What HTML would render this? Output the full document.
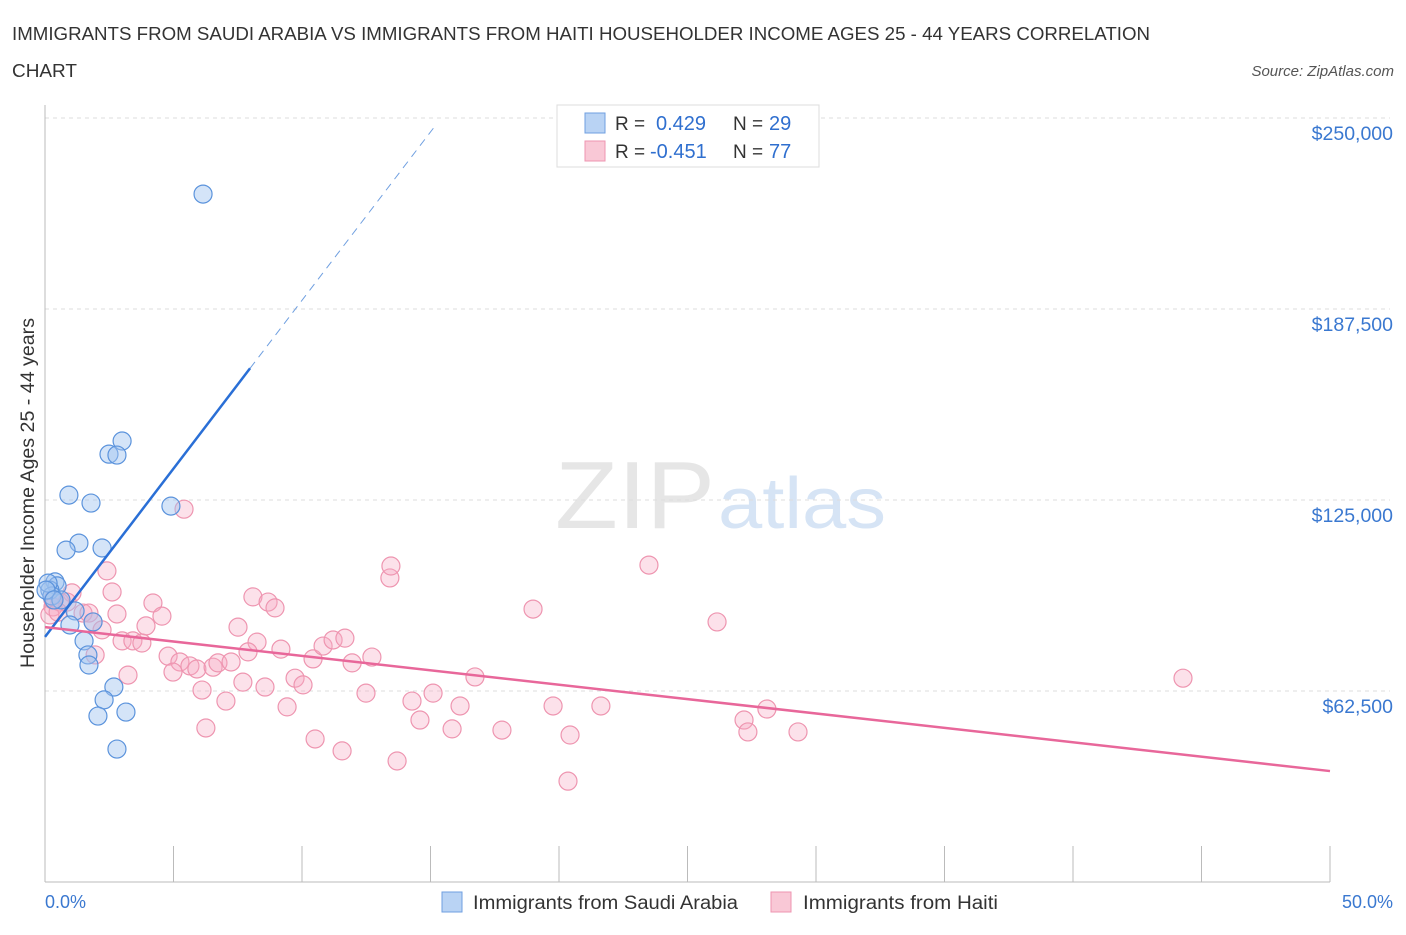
<!DOCTYPE html>
<html><head><meta charset="utf-8"><style>
body{margin:0;background:#fff;font-family:"Liberation Sans",sans-serif;}
svg text{font-family:"Liberation Sans",sans-serif;}
</style></head><body>
<svg id="chart" width="1406" height="930" xmlns="http://www.w3.org/2000/svg">
<text x="12" y="40" font-size="18.5" fill="#333" textLength="1138" lengthAdjust="spacingAndGlyphs">IMMIGRANTS FROM SAUDI ARABIA VS IMMIGRANTS FROM HAITI HOUSEHOLDER INCOME AGES 25 - 44 YEARS CORRELATION</text>
<text x="12" y="77" font-size="18.5" fill="#333" textLength="65" lengthAdjust="spacingAndGlyphs">CHART</text>
<text x="1394" y="76" font-size="15" fill="#555" text-anchor="end" font-style="italic">Source: ZipAtlas.com</text>
<text x="555" y="528" font-size="96" fill="#e6e6e6" font-family="Liberation Serif" textLength="160" lengthAdjust="spacingAndGlyphs">ZIP</text>
<text x="718" y="528" font-size="72" fill="#d6e4f5" textLength="168" lengthAdjust="spacingAndGlyphs">atlas</text>
<g id="grid"></g><g id="axes"></g><g id="pts"></g><g id="lines"></g>
<text transform="translate(34,493) rotate(-90)" font-size="19" fill="#333" text-anchor="middle" textLength="350" lengthAdjust="spacingAndGlyphs">Householder Income Ages 25 - 44 years</text>
<text x="45" y="908" font-size="18" fill="#3a78d0">0.0%</text>
<text x="1393" y="908" font-size="18" fill="#3a78d0" text-anchor="end">50.0%</text>
<g>
<rect x="557" y="105" width="262" height="62" fill="#fff" stroke="#ddd"/>
<rect x="585" y="113" width="20" height="20" fill="#b9d3f4" stroke="#6f9fe0"/>
<rect x="585" y="141" width="20" height="20" fill="#f9c8d6" stroke="#ee95b0"/>
<text x="615" y="130" font-size="19" fill="#333">R =</text><text x="656" y="130" font-size="20" fill="#2f6fcf">0.429</text>
<text x="733" y="130" font-size="19" fill="#333">N =</text><text x="769" y="130" font-size="20" fill="#2f6fcf">29</text>
<text x="615" y="158" font-size="19" fill="#333">R =</text><text x="650" y="158" font-size="20" fill="#2f6fcf">-0.451</text>
<text x="733" y="158" font-size="19" fill="#333">N =</text><text x="769" y="158" font-size="20" fill="#2f6fcf">77</text>
</g>
<g>
<rect x="442" y="892" width="20" height="20" fill="#b9d3f4" stroke="#6f9fe0"/>
<text x="473" y="909" font-size="19" fill="#333" textLength="265" lengthAdjust="spacingAndGlyphs">Immigrants from Saudi Arabia</text>
<rect x="771" y="892" width="20" height="20" fill="#f9c8d6" stroke="#ee95b0"/>
<text x="803" y="909" font-size="19" fill="#333" textLength="195" lengthAdjust="spacingAndGlyphs">Immigrants from Haiti</text>
</g>
</svg>
<script>
const yTicks=[62500,125000,187500,250000];
const yTickLabels=["$62,500","$125,000","$187,500","$250,000"];
const saudiX=[6.15,3.0,2.49,2.8,0.93,1.79,4.9,1.32,0.82,2.22,0.39,0.47,0.19,0.27,0.62,1.17,1.87,0.97,1.52,1.67,1.71,2.68,2.3,2.06,3.15,2.8,0.12,0.04,0.35];
const saudiY=[225100,144300,140000,139700,126600,124000,123000,110900,108600,109300,98200,96900,95500,93600,92300,88700,85100,84100,78900,74300,71000,63800,59600,54300,55600,43500,97800,95500,92300];
const haitiX=[5.41,2.41,2.61,2.80,4.20,4.55,3.93,3.00,3.42,3.77,1.95,4.79,5.25,5.64,5.91,6.54,6.73,7.24,8.09,8.68,8.95,7.51,8.25,7.90,9.18,3.23,4.98,6.11,7.04,7.70,8.56,9.73,10.04,9.42,6.26,10.43,10.82,11.21,11.67,11.95,10.51,11.56,1.05,0.58,0.86,0.31,0.19,1.48,1.71,1.87,2.22,13.42,13.46,12.72,12.49,13.70,14.28,14.59,15.10,15.84,16.15,16.73,17.78,18.99,19.77,20.43,20.35,21.63,23.50,26.15,27.20,27.35,28.09,29.30,44.28,0.31,0.51];
const haitiY=[122000,101800,94900,87700,91300,87000,83800,78900,78900,78200,74300,73900,72000,70700,69700,70300,71700,72000,93300,91600,89700,83400,78500,75300,76200,67700,68700,62800,59200,65400,63800,66700,64500,57300,50400,73000,77200,79200,79800,71700,46800,42900,94600,91600,91600,90000,87400,88000,88000,85100,82500,99500,103400,73600,61800,39600,59200,53000,61800,50100,57600,67100,49700,89300,57600,48100,33000,57600,103700,85100,53000,49100,56600,49100,66700,92300,88300];
const saudiTrend=[80200,11015];
const haitiTrend=[83400,-942];
const NS="http://www.w3.org/2000/svg";
const X0=45,X1=1330,Y0=882,Y250=118;
const sx=v=>X0+(v/50)*(X1-X0);
const sy=v=>Y0-(v/250000)*(Y0-Y250);
function mk(tag,attrs,parent){const e=document.createElementNS(NS,tag);for(const k in attrs)e.setAttribute(k,attrs[k]);document.getElementById(parent).appendChild(e);return e;}
yTicks.forEach((t,i)=>{
 const g=mk('line',{x1:X0,x2:X1+60,y1:sy(t),y2:sy(t),stroke:'#ddd','stroke-dasharray':'4,4'},'grid');
 
 
 const l=mk('text',{x:1393,y:sy(t)+22,'font-size':19.5,fill:'#3a78d0','text-anchor':'end'},'grid');
 l.textContent=yTickLabels[i];
 
 
});
const ax=mk('line',{x1:X0,x2:X0,y1:105,y2:Y0,stroke:'#bbb'},'axes');


const bx=mk('line',{x1:X0,x2:X1,y1:Y0,y2:Y0,stroke:'#bbb'},'axes');


for(let i=1;i<=10;i++){const t=mk('line',{x1:sx(i*5),x2:sx(i*5),y1:Y0,y2:Y0-36,stroke:'#bbb'},'axes');
 
 }
haitiX.forEach((x,i)=>{const c=mk('circle',{cx:sx(x),cy:sy(haitiY[i]),r:9,fill:'rgba(246,168,194,0.35)',stroke:'#ee95b0','stroke-width':1.2},'pts');
 
 });
saudiX.forEach((x,i)=>{const c=mk('circle',{cx:sx(x),cy:sy(saudiY[i]),r:9,fill:'rgba(160,195,240,0.45)',stroke:'#5b93dc','stroke-width':1.2},'pts');
 
 });
const sEnd=7.98,sDash=15.25;
const l1=mk('line',{x1:sx(0),y1:sy(saudiTrend[0]),x2:sx(sEnd),y2:sy(saudiTrend[0]+saudiTrend[1]*sEnd),stroke:'#2a6fd6','stroke-width':2.5},'lines');


const l2=mk('line',{x1:sx(sEnd),y1:sy(saudiTrend[0]+saudiTrend[1]*sEnd),x2:sx(sDash),y2:sy(saudiTrend[0]+saudiTrend[1]*sDash),stroke:'#6f9fe0','stroke-width':1,'stroke-dasharray':'8,6'},'lines');


const l3=mk('line',{x1:sx(0),y1:sy(haitiTrend[0]),x2:sx(50),y2:sy(haitiTrend[0]+haitiTrend[1]*50),stroke:'#e8679a','stroke-width':2.5},'lines');


</script>
</body></html>
